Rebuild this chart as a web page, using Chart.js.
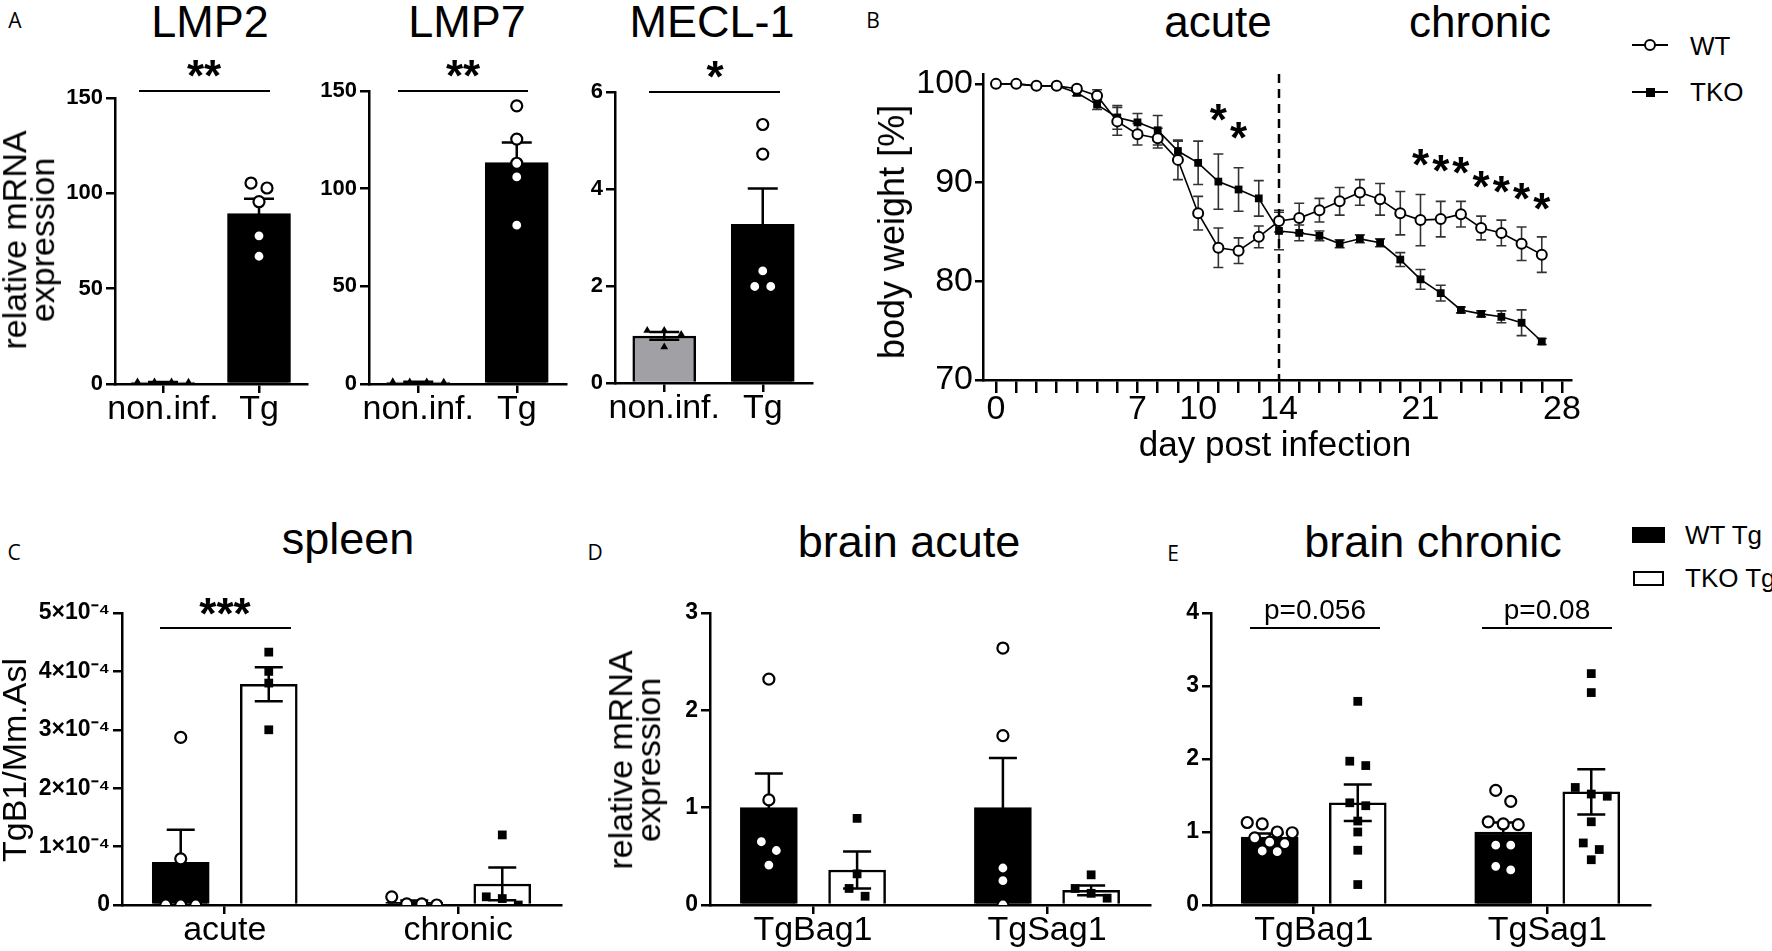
<!DOCTYPE html>
<html>
<head>
<meta charset="utf-8">
<script src="https://cdn.jsdelivr.net/npm/chart.js@4.4.1/dist/chart.umd.min.js"></script>
<style>
  body { margin: 0; background: #fff; width: 1772px; height: 951px; overflow: hidden; position: relative;
         font-family: 'Liberation Sans', Arial, sans-serif; color: #000; }
  .hl { position: absolute; height: 2.5px; background: #000; }
  .key { position: absolute; box-sizing: border-box; }
</style>
</head>
<body>
<script>
// ---------- data ----------
// A: immunoproteasome subunit expression
const aCategories = ['non.inf.', 'Tg'];
const lmp2Ticks = [0, 50, 100, 150];
const lmp2Means = [1.0, 89.4];
const lmp2Sem = [0.1, 7.8];
const lmp2NonInf = [1.0, 0.9, 1.1, 1.0];
const lmp2Tg = [105.4, 102.8, 95.6, 77.7, 67.0];

const lmp7Ticks = [0, 50, 100, 150];
const lmp7Means = [1.0, 113.4];
const lmp7Sem = [0.1, 10.2];
const lmp7NonInf = [1.0, 0.9, 1.1, 1.0];
const lmp7Tg = [142.4, 125.4, 113.0, 106.0, 81.3];

const meclTicks = [0, 2, 4, 6];
const meclMeans = [0.97, 3.27];
const meclSem = [0.08, 0.74];
const meclNonInf = [1.08, 1.08, 1.0, 0.74];
const meclTg = [5.33, 4.72, 2.31, 1.99, 1.99];

// B: body weight course
const days = [0, 1, 2, 3, 4, 5, 6, 7, 8, 9, 10, 11, 12, 13, 14, 15, 16, 17, 18, 19, 20, 21, 22, 23, 24, 25, 26, 27];
const wtWeight = [100, 100, 99.8, 99.8, 99.5, 98.8, 96.2, 94.9, 94.5, 92.3, 86.9, 83.4, 83.1, 84.5, 86.1, 86.4, 87.2, 88.1, 89.0, 88.3, 86.9, 86.2, 86.3, 86.8, 85.4, 84.9, 83.8, 82.7];
const wtSem = [0, 0.1, 0.2, 0.2, 0.3, 0.6, 1.4, 1.1, 1.0, 2.0, 1.7, 2.0, 1.3, 1.1, 1.1, 1.5, 1.2, 1.4, 1.3, 1.6, 2.2, 2.6, 1.8, 1.3, 1.2, 1.3, 1.7, 1.8];
const tkoWeight = [100, 100, 99.8, 99.8, 99.1, 97.9, 96.6, 96.1, 95.3, 93.2, 92.0, 90.1, 89.3, 88.4, 85.1, 84.9, 84.6, 83.8, 84.3, 83.9, 82.2, 80.2, 78.8, 77.1, 76.7, 76.4, 75.8, 73.9];
const tkoSem = [0, 0.1, 0.2, 0.2, 0.3, 0.5, 1.2, 0.9, 1.5, 1.0, 2.2, 2.8, 2.2, 1.8, 1.9, 0.8, 0.5, 0.4, 0.4, 0.4, 0.7, 1.0, 0.8, 0.3, 0.3, 0.6, 1.3, 0.3];
const dayTicks = [0, 1, 2, 3, 4, 5, 6, 7, 8, 9, 10, 11, 12, 13, 14, 15, 16, 17, 18, 19, 20, 21, 22, 23, 24, 25, 26, 27, 28];
const dayTickLabels = [0, 7, 10, 14, 21, 28];
const weightTicks = [70, 80, 90, 100];
const phaseBoundaryDay = 14;

// C: spleen parasite load
const phaseLabels = ['acute', 'chronic'];
const spleenTicks = [0, 1e-4, 2e-4, 3e-4, 4e-4, 5e-4];
const spleenWtMeans = [0.73e-4, 0.045e-4];
const spleenWtSem = [0.56e-4, 0.03e-4];
const spleenTkoMeans = [3.78e-4, 0.36e-4];
const spleenTkoSem = [0.29e-4, 0.28e-4];
const spleenWtAcute = [2.87e-4, 0.79e-4, 0, 0, 0];
const spleenWtChronic = [0.14e-4, 0.02e-4, 0.02e-4, 0];
const spleenTkoAcute = [4.33e-4, 4.0e-4, 3.8e-4, 3.0e-4];
const spleenTkoChronic = [1.2e-4, 0.14e-4, 0.11e-4, 0];

// D: brain acute
const geneLabels = ['TgBag1', 'TgSag1'];
const acuteTicks = [0, 1, 2, 3];
const acuteWtMeans = [1.0, 1.0];
const acuteWtSem = [0.35, 0.51];
const acuteTkoMeans = [0.36, 0.15];
const acuteTkoSem = [0.19, 0.05];
const acuteWtBag1 = [2.32, 1.08, 0.65, 0.56, 0.41];
const acuteTkoBag1 = [0.89, 0.32, 0.17, 0.09];
const acuteWtSag1 = [2.64, 1.74, 0.38, 0.25, 0.0];
const acuteTkoSag1 = [0.31, 0.17, 0.12, 0.07];

// E: brain chronic
const chronicTicks = [0, 1, 2, 3, 4];
const chronicWtMeans = [0.93, 1.0];
const chronicWtSem = [0.05, 0.13];
const chronicTkoMeans = [1.40, 1.55];
const chronicTkoSem = [0.25, 0.31];
const chronicWtBag1 = [1.13, 1.11, 1.0, 0.99, 0.92, 0.86, 0.84, 0.74, 0.73];
const chronicTkoBag1 = [2.79, 1.97, 1.91, 1.40, 1.36, 1.15, 1.0, 0.75, 0.28];
const chronicWtSag1 = [1.57, 1.42, 1.14, 1.11, 1.10, 0.82, 0.82, 0.53, 0.48];
const chronicTkoSag1 = [3.17, 2.91, 1.61, 1.52, 1.49, 1.14, 0.85, 0.76, 0.62];

// ---------- layout (plot areas in page pixels) ----------
const layout = {
  lmp2: { l: 115, t: 98, w: 192, h: 286 },
  lmp7: { l: 369, t: 91, w: 197, h: 293 },
  mecl: { l: 615, t: 92, w: 197, h: 291 },
  body: { l: 983, t: 74, w: 588, h: 306 },
  spleen: { l: 122, t: 613, w: 439, h: 292 },
  brainAcute: { l: 710, t: 613, w: 440, h: 292 },
  brainChronic: { l: 1211, t: 613, w: 439, h: 292 }
};
const GRAY = '#a0a0a5';
const SANS = "'Liberation Sans', Arial, sans-serif";

Chart.defaults.font.family = SANS;
Chart.defaults.color = '#000';

// ---------- helpers ----------
function label(text, x, y, size, o = {}) {
  const d = document.createElement('div');
  d.textContent = text;
  const tr = o.left ? 'translate(0,-50%)' : 'translate(-50%,-50%)';
  d.style.cssText = `position:absolute;left:${x}px;top:${y}px;font-size:${size}px;line-height:${o.lh || 1};` +
    `white-space:pre;text-align:center;transform:${tr}${o.rot ? ' rotate(-90deg)' : ''};` +
    `font-family:${o.family || SANS};font-weight:${o.bold ? 'bold' : 'normal'}`;
  document.body.appendChild(d);
}
function hline(x1, x2, y) {
  const d = document.createElement('div');
  d.className = 'hl';
  d.style.left = x1 + 'px'; d.style.top = (y - 1.25) + 'px'; d.style.width = (x2 - x1) + 'px';
  document.body.appendChild(d);
}
function plotCanvas(area, pad) {
  const c = document.createElement('canvas');
  const w = area.w + pad.l + pad.r, h = area.h + pad.t + pad.b;
  c.width = w; c.height = h;
  c.style.cssText = `position:absolute;left:${area.l - pad.l}px;top:${area.t - pad.t}px;width:${w}px;height:${h}px`;
  document.body.appendChild(c);
  return c;
}
// spread points that would overlap into a row, like a scatter dot plot
function swarm(values, cx, tol, step) {
  const order = values.map((v, i) => i).sort((a, b) => values[b] - values[a]);
  const xs = [];
  let row = [];
  const flush = () => {
    row.forEach((k, j) => { xs[k] = cx + (j - (row.length - 1) / 2) * step; });
    row = [];
  };
  order.forEach(k => {
    if (row.length && values[row[0]] - values[k] > tol) flush();
    row.push(k);
  });
  flush();
  return values.map((v, i) => ({ x: xs[i], y: v }));
}

function drawErrors(chart, ds, meta, opts) {
  const ctx = chart.ctx, y = chart.scales.y, half = opts.cap / 2;
  ctx.save();
  ctx.strokeStyle = opts.color;
  ctx.lineWidth = opts.width;
  meta.data.forEach((el, k) => {
    const v = ds.data[k].y, e = ds.sem[k];
    const hi = y.getPixelForValue(v + e), lo = y.getPixelForValue(v - e);
    ctx.beginPath();
    ctx.moveTo(el.x, hi); ctx.lineTo(el.x, lo);
    ctx.moveTo(el.x - half, hi); ctx.lineTo(el.x + half, hi);
    ctx.moveTo(el.x - half, lo); ctx.lineTo(el.x + half, lo);
    ctx.stroke();
  });
  ctx.restore();
}
const errorBars = {
  id: 'errorBars',
  defaults: { color: '#000', width: 2.5, cap: 28 },
  beforeDatasetsDraw(chart, args, opts) {
    chart.data.datasets.forEach((ds, i) => {
      const meta = chart.getDatasetMeta(i);
      if (ds.sem && meta.type === 'line') drawErrors(chart, ds, meta, opts);
    });
  },
  afterDatasetDraw(chart, args, opts) {
    const ds = chart.data.datasets[args.index];
    if (ds.sem && args.meta.type === 'bar') drawErrors(chart, ds, args.meta, opts);
  }
};

const tickGrid = (len) => ({ display: true, offset: false, drawOnChartArea: false, drawTicks: true, tickLength: len, lineWidth: 2.5, color: '#000' });
const axisBorder = { display: true, width: 2.5, color: '#000' };

function barPanel(area, o) {
  const pad = { l: o.padL || 100, t: 24, r: 20, b: 60 };
  const cvs = plotCanvas(area, pad);
  const yMin = o.yTicks[0], yMax = o.yTicks[o.yTicks.length - 1];
  const yPerPx = (yMax - yMin) / area.h;
  const xPerPx = (o.xMax - o.xMin) / area.w;
  const datasets = [];
  o.bars.forEach(b => datasets.push({
    type: 'bar',
    data: b.x.map((x, i) => ({ x, y: b.means[i] })),
    sem: b.sem,
    backgroundColor: b.fill,
    borderColor: '#000',
    borderWidth: 2.5,
    barThickness: o.barW,
    grouped: false,
    order: 3
  }));
  o.points.forEach(p => datasets.push({
    type: 'scatter',
    data: p.groups.flatMap((vals, i) => swarm(vals, p.x[i], p.size * yPerPx, p.gap * xPerPx)),
    pointStyle: p.style,
    pointRadius: p.r,
    pointBackgroundColor: p.fill,
    pointBorderColor: '#000',
    pointBorderWidth: p.bw,
    order: 1
  }));
  return new Chart(cvs, {
    type: 'bar',
    data: { datasets },
    options: {
      responsive: false,
      animation: false,
      layout: { padding: { left: 0, top: pad.t, right: pad.r, bottom: 0 } },
      plugins: { legend: { display: false }, tooltip: { enabled: false }, errorBars: { cap: o.cap || 28, width: 2.5 } },
      scales: {
        x: {
          type: 'linear', min: o.xMin, max: o.xMax, offset: false,
          afterBuildTicks: s => { s.ticks = o.centers.map(v => ({ value: v })); },
          afterFit: s => { s.height = pad.b; },
          ticks: { autoSkip: false, maxRotation: 0, padding: 0, font: { size: o.xFont || 34, lineHeight: 1 },
                   callback: v => o.labels[o.centers.indexOf(v)] },
          grid: tickGrid(9),
          border: axisBorder
        },
        y: {
          type: 'linear', min: yMin, max: yMax,
          afterBuildTicks: s => { s.ticks = o.yTicks.map(v => ({ value: v })); },
          afterFit: s => { s.width = pad.l; },
          ticks: { padding: 3, font: { size: o.yFont || 23, weight: 'bold' }, callback: o.yFmt || (v => v) },
          grid: tickGrid(9),
          border: axisBorder
        }
      }
    },
    plugins: [errorBars]
  });
}

// ---------- panel A ----------
function immunoPanel(area, ticks, means, sem, nonInf, tg) {
  barPanel(area, {
    xMin: 0.5, xMax: 2.5, centers: [1, 2], labels: aCategories, barW: 63, cap: 30,
    yTicks: ticks, yFont: 22, xFont: 34, padL: 105,
    bars: [{ x: [1, 2], means, sem, fill: [GRAY, '#000'] }],
    points: [
      { groups: [nonInf], x: [1], style: 'triangle', r: 4.5, fill: '#000', bw: 0, size: 9, gap: 17 },
      { groups: [tg], x: [2], style: 'circle', r: 5.5, fill: '#fff', bw: 2.2, size: 13, gap: 16 }
    ]
  });
}
immunoPanel(layout.lmp2, lmp2Ticks, lmp2Means, lmp2Sem, lmp2NonInf, lmp2Tg);
immunoPanel(layout.lmp7, lmp7Ticks, lmp7Means, lmp7Sem, lmp7NonInf, lmp7Tg);
immunoPanel(layout.mecl, meclTicks, meclMeans, meclSem, meclNonInf, meclTg);

label('A', 15, 20, 21, { family: "'Open Sans', sans-serif" });
label('LMP2', 210, 21, 45);
label('LMP7', 467, 21, 45);
label('MECL-1', 712, 21, 45);
label('relative mRNA\nexpression', 29, 240, 34, { rot: true, lh: 0.82 });
label('**', 204, 76, 44, { bold: true }); hline(139, 270, 91);
label('**', 463, 76, 44, { bold: true }); hline(398, 528, 91);
label('*', 715, 77, 44, { bold: true }); hline(649, 780, 92);

// ---------- panel B ----------
const bStars = [[11, 97.4], [12, 95.5], [21, 92.8], [22, 92.2], [23, 92.0], [24, 90.6], [25, 90.1], [26, 89.4], [27, 88.3]];
const phaseMarks = {
  id: 'phaseMarks',
  beforeDatasetsDraw(chart) {
    const { ctx, chartArea, scales: { x } } = chart;
    const px = x.getPixelForValue(phaseBoundaryDay);
    ctx.save();
    ctx.strokeStyle = '#000'; ctx.lineWidth = 2.5; ctx.setLineDash([9, 6]);
    ctx.beginPath(); ctx.moveTo(px, chartArea.top); ctx.lineTo(px, chartArea.bottom); ctx.stroke();
    ctx.restore();
  },
  afterDatasetsDraw(chart) {
    const { ctx, scales: { x, y } } = chart;
    ctx.save();
    ctx.font = 'bold 44px ' + SANS; ctx.textAlign = 'center'; ctx.textBaseline = 'alphabetic'; ctx.fillStyle = '#000';
    bStars.forEach(([d, v]) => ctx.fillText('*', x.getPixelForValue(d), y.getPixelForValue(v) + 44 * 0.57));
    ctx.restore();
  }
};
(function () {
  const area = layout.body, pad = { l: 90, t: 24, r: 40, b: 60 };
  const cvs = plotCanvas(area, pad);
  new Chart(cvs, {
    type: 'line',
    data: {
      datasets: [
        { label: 'WT', data: days.map((d, i) => ({ x: d, y: wtWeight[i] })), sem: wtSem,
          borderColor: '#000', borderWidth: 1.6, pointStyle: 'circle', pointRadius: 5,
          pointBackgroundColor: '#fff', pointBorderColor: '#000', pointBorderWidth: 2, order: 1 },
        { label: 'TKO', data: days.map((d, i) => ({ x: d, y: tkoWeight[i] })), sem: tkoSem,
          borderColor: '#000', borderWidth: 1.6, pointStyle: 'rect', pointRadius: 5.5,
          pointBackgroundColor: '#000', pointBorderColor: '#000', pointBorderWidth: 0, order: 2 }
      ]
    },
    options: {
      responsive: false,
      animation: false,
      layout: { padding: { left: 0, top: pad.t, right: pad.r, bottom: 0 } },
      plugins: { legend: { display: false }, tooltip: { enabled: false }, errorBars: { cap: 10, width: 1.6, color: '#333' } },
      scales: {
        x: {
          type: 'linear', min: -0.643, max: 28.445,
          afterBuildTicks: s => { s.ticks = dayTicks.map(v => ({ value: v })); },
          afterFit: s => { s.height = pad.b; },
          ticks: { autoSkip: false, maxRotation: 0, padding: 0, font: { size: 34, lineHeight: 1 },
                   callback: v => dayTickLabels.includes(v) ? String(v) : '' },
          grid: tickGrid(13),
          border: axisBorder
        },
        y: {
          type: 'linear', min: 70, max: 101,
          afterBuildTicks: s => { s.ticks = weightTicks.map(v => ({ value: v })); },
          afterFit: s => { s.width = pad.l; },
          ticks: { padding: 2, font: { size: 34 } },
          grid: tickGrid(8),
          border: axisBorder
        }
      }
    },
    plugins: [errorBars, phaseMarks]
  });
})();

label('B', 873, 20, 21, { family: "'Open Sans', sans-serif" });
label('acute', 1218, 22, 44);
label('chronic', 1480, 22, 44);
label('body weight [%]', 892, 232, 36, { rot: true });
label('day post infection', 1275, 443, 35);
// legends
(function () {
  const add = (css) => { const d = document.createElement('div'); d.className = 'key'; d.style.cssText += css; document.body.appendChild(d); };
  add('left:1632px;top:44px;width:36px;height:2px;background:#000');
  add('left:1644px;top:39px;width:12px;height:12px;border:2px solid #000;border-radius:50%;background:#fff');
  add('left:1632px;top:91px;width:36px;height:2px;background:#000');
  add('left:1646px;top:88px;width:9px;height:9px;background:#000');
  label('WT', 1690, 46, 26, { left: true });
  label('TKO', 1690, 92, 26, { left: true });
  add('left:1632px;top:527px;width:33px;height:16px;background:#000');
  add('left:1633px;top:571px;width:31px;height:15px;border:2.5px solid #000;background:#fff');
  label('WT Tg', 1685, 535, 26, { left: true });
  label('TKO Tg', 1685, 578, 26, { left: true });
})();

// ---------- panels C, D, E ----------
function groupPanel(area, o) {
  const off = 0.377;
  barPanel(area, {
    xMin: 0.12, xMax: 3.88, centers: [1, 3], labels: o.labels, barW: 57, cap: 28,
    yTicks: o.yTicks, yFont: 23, xFont: 34, padL: 110, yFmt: o.yFmt,
    bars: [
      { x: [1 - off, 3 - off], means: o.wtMeans, sem: o.wtSem, fill: '#000' },
      { x: [1 + off, 3 + off], means: o.tkoMeans, sem: o.tkoSem, fill: '#fff' }
    ],
    points: [
      { groups: o.wtPts, x: [1 - off, 3 - off], style: 'circle', r: 5.5, fill: '#fff', bw: 2.2, size: 12, gap: 15 },
      { groups: o.tkoPts, x: [1 + off, 3 + off], style: 'rect', r: 6.2, fill: '#000', bw: 0, size: 10, gap: 16 }
    ]
  });
}
groupPanel(layout.spleen, {
  labels: phaseLabels, yTicks: spleenTicks,
  yFmt: v => v === 0 ? '0' : Math.round(v * 1e4) + '×10⁻⁴',
  wtMeans: spleenWtMeans, wtSem: spleenWtSem, tkoMeans: spleenTkoMeans, tkoSem: spleenTkoSem,
  wtPts: [spleenWtAcute, spleenWtChronic], tkoPts: [spleenTkoAcute, spleenTkoChronic]
});
groupPanel(layout.brainAcute, {
  labels: geneLabels, yTicks: acuteTicks,
  wtMeans: acuteWtMeans, wtSem: acuteWtSem, tkoMeans: acuteTkoMeans, tkoSem: acuteTkoSem,
  wtPts: [acuteWtBag1, acuteWtSag1], tkoPts: [acuteTkoBag1, acuteTkoSag1]
});
groupPanel(layout.brainChronic, {
  labels: geneLabels, yTicks: chronicTicks,
  wtMeans: chronicWtMeans, wtSem: chronicWtSem, tkoMeans: chronicTkoMeans, tkoSem: chronicTkoSem,
  wtPts: [chronicWtBag1, chronicWtSag1], tkoPts: [chronicTkoBag1, chronicTkoSag1]
});

label('C', 14, 552, 21, { family: "'Open Sans', sans-serif" });
label('spleen', 348, 538, 45);
label('TgB1/Mm.Asl', 14, 760, 34, { rot: true });
label('***', 225, 614, 44, { bold: true }); hline(160, 291, 628);

label('D', 595, 552, 21, { family: "'Open Sans', sans-serif" });
label('brain acute', 909, 541, 45);
label('relative mRNA\nexpression', 635, 760, 34, { rot: true, lh: 0.82 });

label('E', 1173, 553, 21, { family: "'Open Sans', sans-serif" });
label('brain chronic', 1433, 541, 45);
label('p=0.056', 1315, 610, 28); hline(1250, 1380, 628);
label('p=0.08', 1547, 610, 28); hline(1482, 1612, 628);
</script>
</body>
</html>
